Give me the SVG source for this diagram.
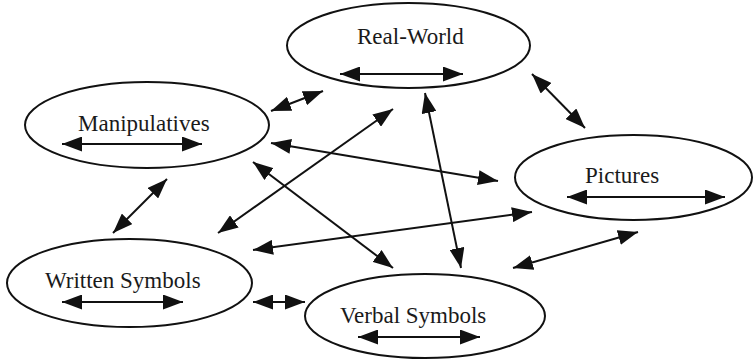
<svg xmlns="http://www.w3.org/2000/svg" width="754" height="360" viewBox="0 0 754 360">
<style>
.node ellipse{fill:#fff;stroke:#111;stroke-width:2}
.node text{font-family:"Liberation Serif","Times New Roman",serif;font-size:23px;fill:#1a1a1a}
line{stroke:#111;stroke-width:2}
</style>
<defs>
<marker id="ah" markerUnits="userSpaceOnUse" markerWidth="20" markerHeight="15" refX="20" refY="7.5" orient="auto-start-reverse" viewBox="0 0 20 15">
<path d="M0,0 L20,7.5 L0,15 z" fill="#111"/>
</marker>
</defs>
<rect width="754" height="360" fill="#fff"/>
<g id="real-world" class="node">
<ellipse cx="408.5" cy="45.5" rx="121.5" ry="42.5"/>
<text x="357" y="44">Real-World</text>
<line x1="340" y1="74" x2="463" y2="74" marker-start="url(#ah)" marker-end="url(#ah)"/>
</g>
<g id="manipulatives" class="node">
<ellipse cx="147" cy="125" rx="122" ry="43"/>
<text x="78" y="131">Manipulatives</text>
<line x1="62" y1="144" x2="202" y2="144" marker-start="url(#ah)" marker-end="url(#ah)"/>
</g>
<g id="pictures" class="node">
<ellipse cx="633.5" cy="177.5" rx="118.5" ry="42.5"/>
<text x="585" y="183">Pictures</text>
<line x1="567" y1="197" x2="725" y2="197" marker-start="url(#ah)" marker-end="url(#ah)"/>
</g>
<g id="written-symbols" class="node">
<ellipse cx="129.5" cy="283" rx="122.5" ry="44"/>
<text x="45" y="288">Written Symbols</text>
<line x1="62" y1="302" x2="183" y2="302" marker-start="url(#ah)" marker-end="url(#ah)"/>
</g>
<g id="verbal-symbols" class="node">
<ellipse cx="425" cy="316" rx="120" ry="42"/>
<text x="340" y="323">Verbal Symbols</text>
<line x1="358" y1="337" x2="480" y2="337" marker-start="url(#ah)" marker-end="url(#ah)"/>
</g>
<g id="connectors">
<line x1="271" y1="111" x2="323" y2="91" marker-start="url(#ah)" marker-end="url(#ah)"/>
<line x1="218" y1="233" x2="393" y2="109" marker-start="url(#ah)" marker-end="url(#ah)"/>
<line x1="271" y1="143" x2="498" y2="181" marker-start="url(#ah)" marker-end="url(#ah)"/>
<line x1="253" y1="162" x2="393" y2="268" marker-start="url(#ah)" marker-end="url(#ah)"/>
<line x1="425" y1="93" x2="461" y2="268" marker-start="url(#ah)" marker-end="url(#ah)"/>
<line x1="253" y1="250" x2="532" y2="212" marker-start="url(#ah)" marker-end="url(#ah)"/>
<line x1="513" y1="268" x2="638" y2="232" marker-start="url(#ah)" marker-end="url(#ah)"/>
<line x1="532" y1="74" x2="585" y2="128" marker-start="url(#ah)" marker-end="url(#ah)"/>
<line x1="113" y1="233" x2="167" y2="179" marker-start="url(#ah)" marker-end="url(#ah)"/>
<line x1="253" y1="302" x2="305" y2="302" marker-start="url(#ah)" marker-end="url(#ah)"/>
</g>
</svg>
